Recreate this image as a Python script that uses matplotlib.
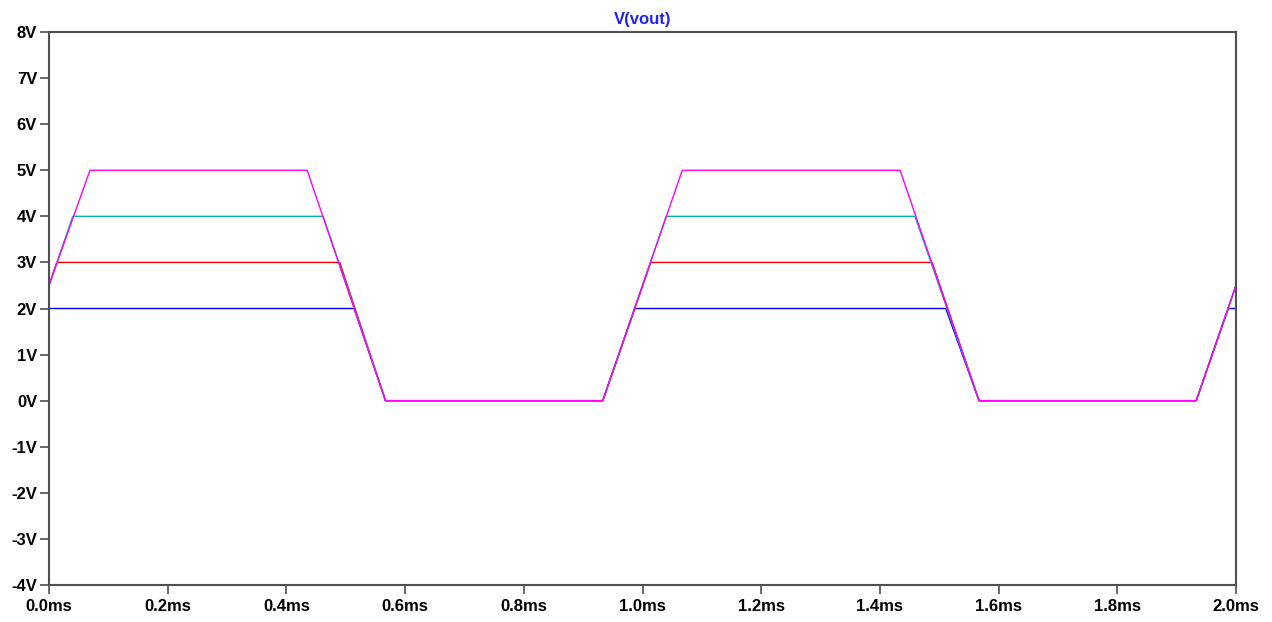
#!/usr/bin/env python3
# V(vout) transient - four clamp levels, LTspice-like look
import matplotlib
matplotlib.use("Agg")
import matplotlib.pyplot as plt
from matplotlib.ticker import FuncFormatter

plt.rcParams['font.family'] = ['Liberation Sans', 'DejaVu Sans']

# breakpoints of each trace (time in ms, voltage in V)
t_2v = [0.0, 0.514, 0.567, 0.933, 0.987, 1.511, 1.567, 1.933, 1.987, 2.0]
v_2v = [2.0, 2.0, 0.0, 0.0, 2.0, 2.0, 0.0, 0.0, 2.0, 2.0]

t_3v = [0.0, 0.013, 0.490, 0.567, 0.933, 1.014, 1.488, 1.567, 1.933, 2.0]
v_3v = [2.5, 3.0, 3.0, 0.0, 0.0, 3.0, 3.0, 0.0, 0.0, 2.5]

t_4v = [0.0, 0.040, 0.462, 0.567, 0.933, 1.040, 1.459, 1.567, 1.933, 2.0]
v_4v = [2.5, 4.0, 4.0, 0.0, 0.0, 4.0, 4.0, 0.0, 0.0, 2.5]

t_5v = [0.0, 0.069, 0.435, 0.567, 0.933, 1.067, 1.434, 1.567, 1.933, 2.0]
v_5v = [2.5, 5.0, 5.0, 0.0, 0.0, 5.0, 5.0, 0.0, 0.0, 2.5]

x_ticks = [0.0, 0.2, 0.4, 0.6, 0.8, 1.0, 1.2, 1.4, 1.6, 1.8, 2.0]
y_ticks = [-4, -3, -2, -1, 0, 1, 2, 3, 4, 5, 6, 7, 8]

fig = plt.figure(figsize=(12.72, 6.22), dpi=100)
ax = fig.add_axes([49 / 1272, 1 - 585 / 622, (1236 - 49) / 1272, (585 - 32) / 622])

lw = 1.0
ax.plot(t_2v, v_2v, color='#0000ff', lw=lw)
ax.plot(t_3v, v_3v, color='#ff0000', lw=lw)
ax.plot(t_4v, v_4v, color='#00b4b4', lw=lw)
ax.plot(t_5v, v_5v, color='#ff00ff', lw=lw)

ax.set_xlim(0, 2.0)
ax.set_ylim(-4, 8)
ax.set_xticks(x_ticks)
ax.set_yticks(y_ticks)
ax.xaxis.set_major_formatter(FuncFormatter(lambda v, p: f"{v:.1f}ms"))
ax.yaxis.set_major_formatter(FuncFormatter(lambda v, p: f"{v:.0f}V"))

for s in ax.spines.values():
    s.set_color('#505050')
    s.set_linewidth(1.5)
ax.tick_params(axis='both', direction='out', length=6.5, width=1.2,
               color='#505050', labelsize=12, labelcolor='black')
ax.tick_params(axis='x', pad=3.5)
ax.tick_params(axis='y', pad=2)
for lab in ax.get_xticklabels() + ax.get_yticklabels():
    lab.set_fontweight('bold')

ax.set_title("V(vout)", color='#2020ff', fontsize=12, fontweight='bold', pad=6)

fig.savefig("out.png", dpi=100)
